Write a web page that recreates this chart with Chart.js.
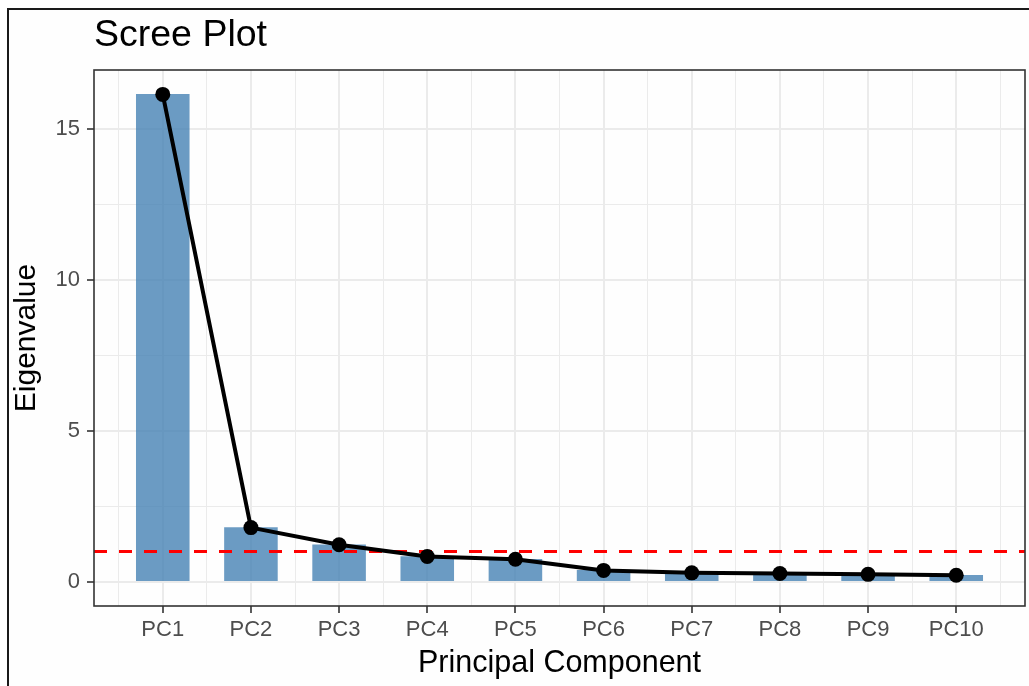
<!DOCTYPE html>
<html>
<head>
<meta charset="utf-8">
<script src="https://cdn.jsdelivr.net/npm/chart.js@4.4.1/dist/chart.umd.min.js"></script>
<style>
  html, body { margin: 0; padding: 0; background: #ffffff; }
  #wrap { position: relative; width: 1029px; height: 686px; overflow: hidden; }
  #frame { position: absolute; left: 7px; top: 8px; width: 1100px; height: 800px;
           border-left: 2px solid #1a1a1a; border-top: 2px solid #1a1a1a; background: #fefefe; }
  #chart { position: absolute; left: 0; top: 0; }
</style>
</head>
<body>
<div id="wrap">
  <div id="frame"></div>
  <canvas id="chart" width="1029" height="686"></canvas>
</div>
<script>
// Scree plot data
const components = ['PC1', 'PC2', 'PC3', 'PC4', 'PC5', 'PC6', 'PC7', 'PC8', 'PC9', 'PC10'];
const eigenvalues = [16.16, 1.79, 1.22, 0.83, 0.74, 0.37, 0.29, 0.27, 0.24, 0.21];
const kaiserCutoff = 1;

// Tick values
const yTickValues = [0, 5, 10, 15];
const yMinorValues = [2.5, 7.5, 12.5];
const xTickValues = components.map((c, i) => i + 1);
const xMinorValues = components.map((c, i) => i + 0.5).concat([components.length + 0.5]);

// Axis limits (ggplot default 5% expansion)
const xMin = 0.22, xMax = 10.78;
const yMin = -0.81, yMax = 16.97;

const FONT = '"Liberation Sans", Arial, Helvetica, sans-serif';
const GRID = '#ebebeb';
const DARK = '#333333';

const points = eigenvalues.map((v, i) => ({ x: xTickValues[i], y: v }));

// Panel border, drawn on top like theme_bw
const panelBorder = {
  id: 'panelBorder',
  afterDraw(chart) {
    const { ctx, chartArea: a } = chart;
    ctx.save();
    ctx.strokeStyle = DARK;
    ctx.lineWidth = 1.6;
    ctx.strokeRect(a.left, a.top, a.right - a.left, a.bottom - a.top);
    ctx.restore();
  }
};

const isMajor = (list, v) => list.some(t => Math.abs(t - v) < 1e-9);

new Chart(document.getElementById('chart'), {
  type: 'bar',
  data: {
    datasets: [
      {
        type: 'line',
        data: points,
        borderColor: '#000000',
        borderWidth: 4,
        borderJoinStyle: 'round',
        pointRadius: 7.5,
        pointBackgroundColor: '#000000',
        pointBorderWidth: 0,
        order: 0
      },
      {
        type: 'line',
        data: [{ x: xMin, y: kaiserCutoff }, { x: xMax, y: kaiserCutoff }],
        borderColor: '#ff0000',
        borderWidth: 3,
        borderDash: [13, 12],
        pointRadius: 0,
        order: 1
      },
      {
        type: 'bar',
        data: points,
        backgroundColor: 'rgba(70, 130, 180, 0.8)',
        borderWidth: 0,
        barThickness: 'flex',
        barPercentage: 0.6,
        categoryPercentage: 1,
        order: 2
      }
    ]
  },
  options: {
    responsive: false,
    animation: false,
    layout: { autoPadding: false, padding: { left: 0, right: 4, top: 0, bottom: 0 } },
    plugins: {
      legend: { display: false },
      tooltip: { enabled: false },
      title: {
        display: true,
        text: 'Scree Plot',
        align: 'start',
        fullSize: false,
        color: '#000000',
        font: { family: FONT, size: 37.5, weight: 'normal' },
        padding: { top: 13, bottom: 12 }
      }
    },
    scales: {
      x: {
        type: 'linear',
        min: xMin,
        max: xMax,
        offset: false,
        afterBuildTicks: (scale) => {
          scale.ticks = xMinorValues.concat(xTickValues).sort((a, b) => a - b).map(v => ({ value: v }));
        },
        afterFit: (scale) => {
          scale.height = 80;
          scale.paddingLeft = 0;
          scale.paddingRight = 0;
        },
        ticks: {
          autoSkip: false,
          maxRotation: 0,
          minRotation: 0,
          padding: 4.2,
          color: '#4d4d4d',
          font: { family: FONT, size: 22 },
          callback: (v) => isMajor(xTickValues, v) ? components[Math.round(v) - 1] : ''
        },
        grid: {
          offset: false,
          color: GRID,
          lineWidth: (ctx) => isMajor(xTickValues, ctx.tick.value) ? 2 : 1,
          tickLength: 7,
          tickWidth: 1.6,
          tickColor: (ctx) => isMajor(xTickValues, ctx.tick.value) ? DARK : 'rgba(0,0,0,0)'
        },
        border: { display: false },
        title: {
          display: true,
          text: 'Principal Component',
          color: '#000000',
          font: { family: FONT, size: 30.5 },
          padding: { top: 0, bottom: 4.2 }
        }
      },
      y: {
        type: 'linear',
        min: yMin,
        max: yMax,
        afterBuildTicks: (scale) => {
          scale.ticks = yTickValues.concat(yMinorValues).sort((a, b) => a - b).map(v => ({ value: v }));
        },
        afterFit: (scale) => {
          scale.width = 94;
          scale.paddingTop = 0;
          scale.paddingBottom = 0;
        },
        ticks: {
          padding: 7,
          color: '#4d4d4d',
          font: { family: FONT, size: 22 },
          callback: (v) => isMajor(yTickValues, v) ? String(v) : ''
        },
        grid: {
          color: GRID,
          lineWidth: (ctx) => isMajor(yTickValues, ctx.tick.value) ? 2 : 1,
          tickLength: 7,
          tickWidth: 1.6,
          tickColor: (ctx) => isMajor(yTickValues, ctx.tick.value) ? DARK : 'rgba(0,0,0,0)'
        },
        border: { display: false },
        title: {
          display: true,
          text: 'Eigenvalue',
          color: '#000000',
          font: { family: FONT, size: 30 },
          padding: { top: 8.3, bottom: 0 }
        }
      }
    }
  },
  plugins: [panelBorder]
});
</script>
</body>
</html>
